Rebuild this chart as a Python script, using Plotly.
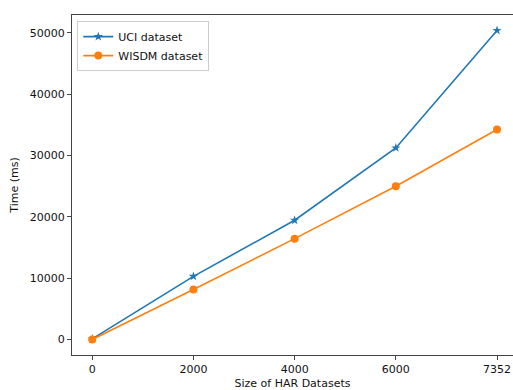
import plotly.graph_objects as go

# Dataset sizes (evenly spaced categories on the x axis)
sizes = ["0", "2000", "4000", "6000", "7352"]
uci_time = [100, 10300, 19450, 31250, 50400]
wisdm_time = [0, 8150, 16450, 25000, 34250]

blue = "#1f77b4"
orange = "#ff7f0e"
font = dict(family="DejaVu Sans", size=11, color="#111111")

fig = go.Figure()
fig.add_trace(go.Scatter(
    x=sizes, y=uci_time, name="UCI dataset", mode="lines+markers",
    line=dict(color=blue, width=1.6),
    marker=dict(symbol="star", size=7, color=blue),
))
fig.add_trace(go.Scatter(
    x=sizes, y=wisdm_time, name="WISDM dataset", mode="lines+markers",
    line=dict(color=orange, width=1.6),
    marker=dict(symbol="circle", size=8, color=orange),
))

fig.update_layout(
    width=513, height=390,
    margin=dict(l=72, r=0, t=15, b=35),
    paper_bgcolor="white", plot_bgcolor="white",
    font=font,
    showlegend=True,
    legend=dict(
        x=0.012, y=0.982, xanchor="left", yanchor="top",
        bgcolor="white", bordercolor="#cccccc", borderwidth=1,
        font=dict(family="DejaVu Sans", size=11, color="#111111"),
        tracegroupgap=0, itemwidth=30,
    ),
    xaxis=dict(
        type="category", range=[-0.2, 4.158],
        showline=True, linecolor="#444444", linewidth=1, mirror=True,
        ticks="outside", ticklen=4, tickcolor="#444444",
        showgrid=False, zeroline=False,
        title=dict(text="Size of HAR Datasets", standoff=4, font=font),
    ),
    yaxis=dict(
        range=[-2520, 52920],
        tickvals=[0, 10000, 20000, 30000, 40000, 50000],
        tickformat="d",
        showline=True, linecolor="#444444", linewidth=1, mirror=False,
        ticks="outside", ticklen=4, tickcolor="#444444",
        showgrid=False, zeroline=False,
        title=dict(text="Time (ms)", standoff=8, font=font),
    ),
)

fig.write_html("out.html")
